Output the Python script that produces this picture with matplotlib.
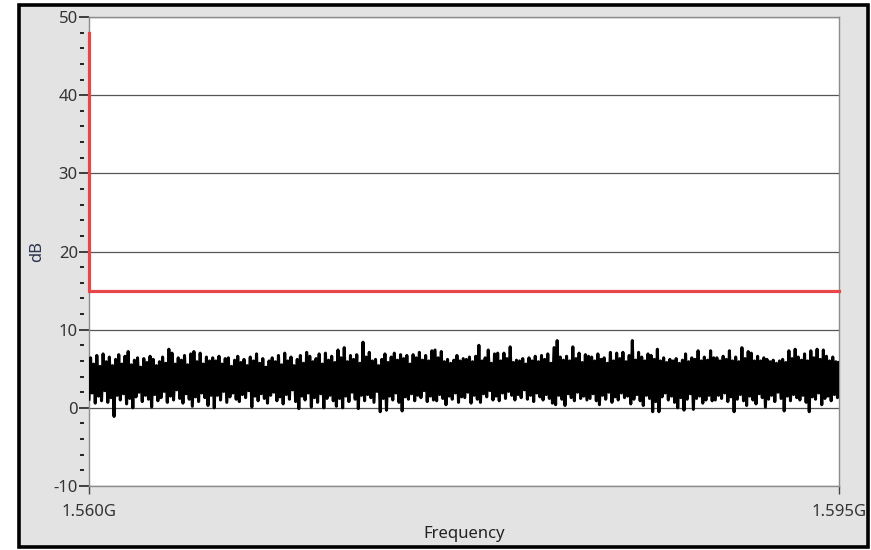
import numpy as np
import matplotlib.pyplot as plt
from matplotlib.patches import Rectangle
import matplotlib.transforms as mtransforms

plt.rcParams['font.family'] = ['Noto Sans', 'DejaVu Sans']
plt.rcParams['axes.unicode_minus'] = False

# sweep limits (Hz)
f_start = 1.560e9
f_stop = 1.595e9

# threshold mask: level at the first bin, then flat level for the rest
mask_freq = [f_start, f_start, f_stop]
mask_db = [48, 15, 15]

# measured trace, stored as local maxima / local minima in sweep order
peak_db = [
    6.4, 5.6, 6.7, 5.3, 6.9, 5.9, 6.5, 5.4, 6.2, 6.8,
    5.6, 6.6, 7.2, 5.5, 6.1, 6.4, 5.2, 6.3, 5.8, 6.6,
    6.2, 5.4, 5.9, 6.5, 5.7, 7.5, 7.0, 5.6, 6.4, 6.1,
    6.7, 5.5, 6.9, 7.2, 5.9, 7.0, 5.6, 6.5, 6.0, 6.4,
    6.0, 6.6, 5.6, 6.3, 6.4, 5.3, 6.1, 6.6, 5.8, 6.2,
    5.4, 6.5, 6.0, 6.9, 5.7, 6.3, 5.2, 6.0, 6.4, 5.9,
    6.7, 5.5, 7.0, 6.0, 6.5, 5.4, 6.2, 6.7, 5.7, 7.1,
    6.6, 5.9, 6.3, 6.9, 5.6, 7.0, 6.1, 6.6, 5.8, 7.4,
    6.4, 7.7, 5.9, 6.7, 6.2, 6.8, 5.7, 8.4, 6.5, 7.1,
    6.0, 6.2, 5.4, 6.2, 6.9, 5.8, 6.5, 7.0, 6.1, 6.8,
    6.3, 6.7, 5.6, 6.8, 6.4, 7.1, 6.1, 6.7, 6.0, 7.3,
    7.4, 6.4, 7.2, 5.9, 6.2, 5.7, 6.1, 6.7, 6.0, 6.3,
    6.2, 6.5, 5.9, 6.6, 8.0, 6.0, 6.4, 7.4, 5.7, 6.9,
    7.0, 6.0, 7.0, 6.3, 7.8, 5.8, 6.1, 6.0, 6.3, 5.6,
    6.4, 6.0, 6.6, 5.9, 6.7, 6.2, 6.9, 5.7, 7.7, 8.6,
    6.5, 6.1, 6.6, 6.0, 7.8, 6.3, 7.0, 5.8, 6.8, 6.6,
    6.5, 6.0, 6.9, 6.2, 6.4, 5.7, 7.1, 6.0, 7.0, 6.3,
    7.1, 5.9, 6.7, 8.6, 6.1, 7.1, 6.5, 6.0, 6.9, 6.7,
    6.2, 7.5, 6.0, 6.4, 5.8, 6.2, 6.0, 6.3, 5.7, 6.1,
    6.9, 5.9, 6.4, 6.2, 7.3, 6.0, 6.5, 6.1, 7.3, 6.4,
    6.4, 6.0, 6.6, 6.2, 7.3, 6.0, 6.5, 5.9, 7.7, 6.3,
    7.2, 7.0, 6.0, 6.6, 6.0, 6.4, 6.2, 5.9, 6.1, 5.7,
    6.0, 6.2, 5.8, 7.3, 6.3, 7.5, 6.5, 6.1, 6.9, 6.0,
    7.3, 6.4, 7.5, 6.2, 7.4, 6.6, 6.0, 6.5, 5.9, 5.8,
]
dip_db = [
    1.1, 1.9, 0.6, 1.5, 0.9, 2.2, 0.7, 1.3, -1.1, 1.6,
    1.0, 1.8, 0.5, 1.2, 0.0, 1.4, 2.0, 0.8, 1.6, 1.1,
    0.1, 1.7, 0.9, 1.3, 2.1, 0.7, 1.5, 1.0, 2.3, 1.2,
    0.6, 1.8, 1.1, 0.2, 1.4, 0.8, 1.9, 1.3, 0.3, 1.6,
    0.0, 1.6, 1.0, 2.1, 0.7, 1.4, 1.9, 1.1, 0.8, 1.7,
    1.3, 2.2, 0.1, 1.5, 0.9, 1.8, 1.2, 0.6, 1.6, 2.0,
    0.9, 1.4, 0.5, 1.7, 1.1, 2.3, 0.8, -0.1, 1.5, 1.0,
    1.9, 0.1, 1.3, 0.7, 1.8, 0.0, 1.2, 1.6, 0.9, 0.2,
    1.2, 0.0, 1.5, 0.8, 2.0, 1.1, -0.1, 1.6, 0.9, 1.7,
    1.3, 0.7, 2.1, -0.5, 1.2, -0.3, 1.5, 1.0, 1.9, 0.7,
    -0.4, 1.4, 1.1, 1.8, 0.9, 1.6, 1.3, 2.2, 0.8, 1.5,
    1.0, 0.9, 1.7, 1.2, 0.4, 1.5, 1.1, 1.9, 0.7, 1.4,
    1.3, 2.0, 0.6, 1.6, 1.1, 0.7, 1.8, 1.4, 2.2, 1.0,
    1.5, 0.9, 1.9, 1.2, 2.1, 1.6, 1.0, 1.7, 1.3, 2.3,
    1.1, 1.6, 0.8, 1.9, 1.4, 1.0, 1.7, 1.2, 0.6, 0.4,
    1.6, 1.1, 0.3, 1.8, 1.3, 0.9, 2.0, 1.2, 1.5, 1.0,
    1.2, 1.8, 0.9, 0.4, 1.6, 1.1, 2.0, 0.7, 1.4, 1.0,
    1.9, 1.3, 1.5, 0.5, 1.1, 1.7, 0.9, 0.3, 1.6, 1.2,
    -0.5, 0.8, -0.5, 1.4, 1.9, 1.0, 1.5, 0.7, 0.0, 1.3,
    -0.3, 1.1, 1.8, -0.2, 1.2, 1.5, 0.6, 1.0, 1.6, 0.9,
    1.0, 1.6, 1.2, 1.9, 0.8, 1.4, -0.5, 1.1, 1.7, 0.9,
    0.3, 1.5, 1.0, 0.5, 1.8, 1.3, 0.1, 1.1, 1.6, 0.8,
    2.0, 1.2, -0.4, 1.5, 0.9, 1.7, 1.3, 1.0, 1.6, 0.7,
    -0.5, 1.4, 1.1, 1.9, 0.4, 1.2, 1.5, 0.9, 1.7, 1.3,
]

y_ticks = [-10, 0, 10, 20, 30, 40, 50]
x_ticks = [f_start, f_stop]
x_labels = ['1.560G', '1.595G']

# interleave so the trace swings min -> max -> min ...
trace = np.empty(len(peak_db) + len(dip_db))
trace[0::2] = dip_db
trace[1::2] = peak_db
freq = np.linspace(f_start, f_stop, len(trace))

fig = plt.figure(figsize=(8.71, 5.5), dpi=100, facecolor='white')

# panel background with black border
fig.patches.append(Rectangle((19 / 871, 3 / 550), 849 / 871, 542 / 550,
                             transform=fig.transFigure, facecolor='#e3e3e3',
                             edgecolor='black', linewidth=2.6, zorder=-5))

ax = fig.add_axes([89 / 871, 1 - 486 / 550, 750 / 871, 469 / 550])
ax.set_zorder(2)
ax.set_facecolor('white')

ax.plot(freq, trace, color='black', linewidth=2.2, zorder=3)
ax.plot(mask_freq, mask_db, color='#e8474a', linewidth=2.3, zorder=4,
        solid_joinstyle='miter', clip_on=False)

ax.set_xlim(f_start, f_stop)
ax.set_ylim(-10, 50)

ax.set_yticks(y_ticks)
ax.grid(axis='y', color='#555555', linewidth=0.9)
ax.set_axisbelow(True)

ax.set_xticks(x_ticks)
ax.set_xticklabels(x_labels)

for s in ax.spines.values():
    s.set_color('#8c8c8c')
    s.set_linewidth(1.0)

ax.tick_params(axis='y', direction='out', length=7, width=1.2, color='#222222',
               labelsize=12, labelcolor='#333333', pad=1)
ax.tick_params(axis='x', direction='out', length=6, width=1.0, color='#444444',
               labelsize=12, labelcolor='#333333', pad=7)

# detached minor dashes every 2 dB
minor_y = [v for v in range(-10, 51, 2) if v % 10 != 0]
trans = mtransforms.blended_transform_factory(ax.transAxes, ax.transData)
ax.plot([-0.0095] * len(minor_y), minor_y, linestyle='none', marker='_',
        markersize=2.6, markeredgewidth=1.4, color='#222222',
        transform=trans, clip_on=False)

ax.set_ylabel('dB', fontsize=12, color='#2d3550', labelpad=6)
ax.set_xlabel('Frequency', fontsize=12, color='#222222', labelpad=4)

fig.savefig('out.png', dpi=100, facecolor=fig.get_facecolor())
